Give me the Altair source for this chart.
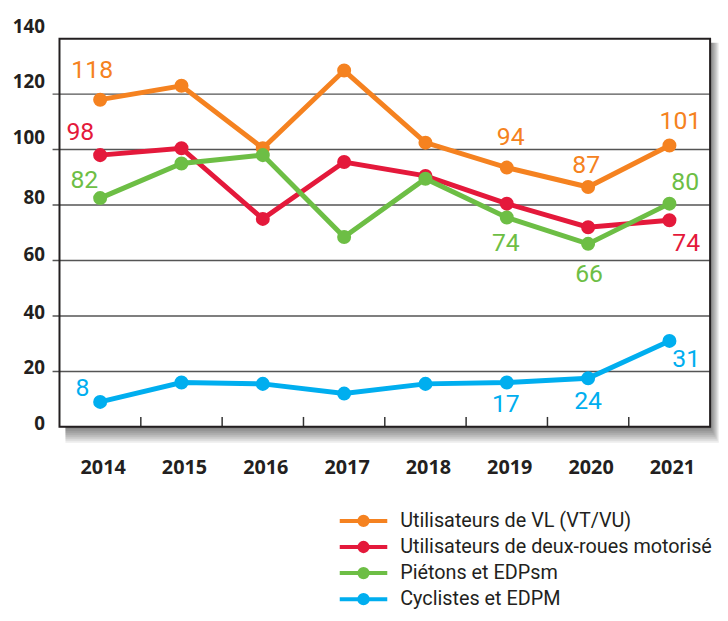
import altair as alt
import pandas as pd

# ---------------- data ----------------
years = [2014, 2015, 2016, 2017, 2018, 2019, 2020, 2021]
series = [
    "Utilisateurs de VL (VT/VU)",
    "Utilisateurs de deux-roues motorisé",
    "Piétons et EDPsm",
    "Cyclistes et EDPM",
]
colors = ["#F58220", "#E4193B", "#6DBE45", "#00AEEF"]

vl_values = [118, 123, 100.5, 128.5, 102.5, 93.5, 86.5, 101.5]
drm_values = [98, 100.5, 75, 95.5, 90.5, 80.5, 72, 74.5]
pietons_values = [82.5, 95, 98, 68.5, 89.5, 75.5, 66, 80.5]
cyclistes_values = [9, 16, 15.5, 12, 15.5, 16, 17.5, 31]

# printed value labels
vl_labels = {2014: "118", 2019: "94", 2020: "87", 2021: "101"}
drm_labels = {2014: "98", 2021: "74"}
pietons_labels = {2014: "82", 2019: "74", 2020: "66", 2021: "80"}
cyclistes_labels = {2014: "8", 2019: "17", 2020: "24", 2021: "31"}

y_tick_values = [0, 20, 40, 60, 80, 100, 120, 140]
grid_values = [20, 40, 60, 80, 100, 120]

# ---------------- styles ----------------
W, H = 657, 392
TEXT = "#231f20"
NUM_FONT = "Roboto"
AXIS_FONT = "Noto Sans"

label_offsets = {
    (0, 2014): (-8, -30), (0, 2019): (4, -31), (0, 2020): (-2, -22), (0, 2021): (11, -25),
    (1, 2014): (-20, -23), (1, 2021): (17, 23),
    (2, 2014): (-16, -18), (2, 2019): (-1, 26), (2, 2020): (1, 31), (2, 2021): (16, -22),
    (3, 2014): (-18, -14), (3, 2019): (-1, 22), (3, 2020): (0, 23), (3, 2021): (17, 18),
}

all_values = [vl_values, drm_values, pietons_values, cyclistes_values]
all_labels = [vl_labels, drm_labels, pietons_labels, cyclistes_labels]

xscale = alt.Scale(type="band", paddingInner=0, paddingOuter=0, domain=years)
yscale = alt.Scale(domain=[0, 140], nice=False, zero=True)
cscale = alt.Scale(domain=series, range=colors)

x_axis = alt.Axis(
    domain=False, ticks=False, tickSize=0, grid=False, labelAngle=0,
    labelFont=AXIS_FONT, labelFontWeight="bold", labelFontSize=20,
    labelColor=TEXT, labelPadding=41, labelBaseline="middle", labelOffset=3,
    title=None,
)
y_axis = alt.Axis(
    values=y_tick_values, grid=False, domain=False, ticks=False, tickSize=0,
    labelFont=AXIS_FONT, labelFontWeight="bold", labelFontSize=19,
    labelColor=TEXT, labelPadding=15, labelBaseline="middle", title=None,
    labelOffset={"condition": [
        {"test": "datum.value >= 100", "value": -12.5},
        {"test": "datum.value >= 80", "value": -8},
        {"test": "datum.value >= 60", "value": -5.5},
    ], "value": -3.5},
)

one = pd.DataFrame({"a": [0]})

layers = []
# drop shadow
for s in [2, 4, 6, 8, 10, 12, 14, 16]:
    layers.append(
        alt.Chart(one).mark_rect(color="black", opacity=0.075).encode(
            x=alt.value(6), x2=alt.value(W + s * 0.55),
            y=alt.value(4), y2=alt.value(H + s),
        )
    )
# white plot background
layers.append(
    alt.Chart(one).mark_rect(color="white").encode(
        x=alt.value(0), x2=alt.value(W), y=alt.value(0), y2=alt.value(H)
    )
)
# gridlines
grid_df = pd.DataFrame({"v": grid_values})
layers.append(
    alt.Chart(grid_df).mark_rule(color="#555555", strokeWidth=1.5).encode(
        y=alt.Y("v:Q", scale=yscale, axis=y_axis),
        x=alt.value(-7), x2=alt.value(W),
    )
)
# inner x ticks at band boundaries
tick_df = pd.DataFrame({"year": years[1:]})
layers.append(
    alt.Chart(tick_df).mark_rule(color="#333333", strokeWidth=1.5).encode(
        x=alt.X("year:O", scale=xscale, bandPosition=0, axis=x_axis),
        y=alt.value(H - 10), y2=alt.value(H),
    )
)

# series lines and points
for i, (name, vals) in enumerate(zip(series, all_values)):
    df = pd.DataFrame({"year": years, "value": vals, "series": name})
    base = alt.Chart(df).encode(
        x=alt.X("year:O", scale=xscale, bandPosition=0.5, axis=x_axis),
        y=alt.Y("value:Q", scale=yscale, axis=y_axis),
        color=alt.Color("series:N", scale=cscale, legend=None),
    )
    layers.append(base.mark_line(strokeWidth=5))
    layers.append(base.mark_circle(size=200, opacity=1))

# value labels
for i, (name, vals, labs) in enumerate(zip(series, all_values, all_labels)):
    for yr, txt in labs.items():
        dx, dy = label_offsets[(i, yr)]
        ldf = pd.DataFrame({"year": [yr], "value": [vals[years.index(yr)]], "series": [name], "t": [txt]})
        layers.append(
            alt.Chart(ldf).mark_text(
                font=NUM_FONT, fontSize=25, dx=dx, dy=dy, align="center", baseline="middle"
            ).encode(
                x=alt.X("year:O", scale=xscale, bandPosition=0.5, axis=x_axis),
                y=alt.Y("value:Q", scale=yscale, axis=y_axis),
                color=alt.Color("series:N", scale=cscale, legend=None),
                text="t:N",
            )
        )

# frame
layers.append(
    alt.Chart(one).mark_rect(fillOpacity=0, stroke=TEXT, strokeWidth=2).encode(
        x=alt.value(0), x2=alt.value(W), y=alt.value(0), y2=alt.value(H)
    )
)

data_layer = alt.layer(*layers)

# manual legend
leg_df = pd.DataFrame({"series": series})
leg_y = alt.Y("series:N", sort=series, axis=None,
              scale=alt.Scale(type="point", domain=series, range=[487, 566], padding=0))
leg_color = alt.Color("series:N", scale=cscale, legend=None)
leg_rule = alt.Chart(leg_df).mark_rule(strokeWidth=4).encode(
    x=alt.value(283), x2=alt.value(331), y=leg_y, color=leg_color)
leg_dot = alt.Chart(leg_df).mark_circle(size=154, opacity=1).encode(
    x=alt.value(307), y=leg_y, color=leg_color)
leg_text = alt.Chart(leg_df).mark_text(
    font=NUM_FONT, fontSize=20, align="left", baseline="middle", color=TEXT
).encode(x=alt.value(344), y=leg_y, text="series:N")
legend_layer = alt.layer(leg_rule, leg_dot, leg_text)

chart = (
    alt.layer(data_layer, legend_layer)
    .resolve_scale(y="independent")
    .properties(
        width=W, height=H,
        autosize=alt.AutoSizeParams(type="none"),
        padding={"left": 52, "top": 28, "right": 10, "bottom": 185},
    )
    .configure_view(stroke=None)
    .configure(background="white")
)

chart.save("out.html", embed_options={"renderer": "svg", "actions": False})
